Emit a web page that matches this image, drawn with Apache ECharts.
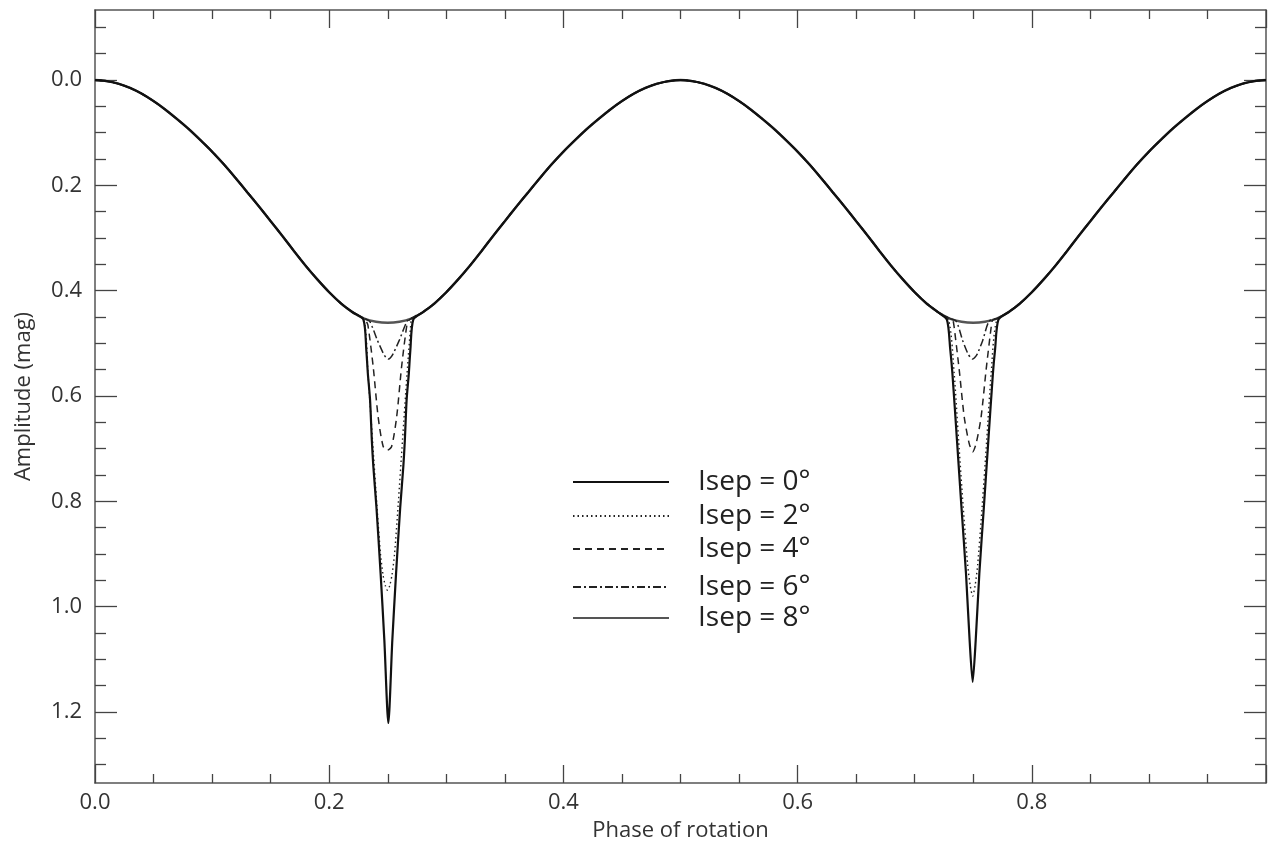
<!DOCTYPE html>
<html><head><meta charset="utf-8">
<script src="https://cdn.jsdelivr.net/npm/echarts@6/dist/echarts.min.js"></script>
<style>html,body{margin:0;padding:0;background:#fff}#c{width:1272px;height:852px}</style>
</head><body><div id="c"></div><script>
// ---------- data ----------
const seriesNames = ['Isep = 0°', 'Isep = 2°', 'Isep = 4°', 'Isep = 6°', 'Isep = 8°'];
const basePhaseStep = 0.01;
// smooth light curve (mag) at phase 0.00 .. 1.00, step 0.01
const baseMag = [
  0.000,0.002,0.007,0.015,0.026,0.040,0.056,0.074,0.093,0.114,
  0.136,0.160,0.186,0.213,0.240,0.268,0.296,0.325,0.353,0.379,
  0.403,0.424,0.441,0.453,0.459,0.461,0.459,0.453,0.441,0.424,
  0.403,0.379,0.353,0.325,0.296,0.268,0.240,0.213,0.186,0.160,
  0.136,0.114,0.093,0.074,0.056,0.040,0.026,0.015,0.007,0.002,
  0.000,0.002,0.007,0.015,0.026,0.040,0.056,0.074,0.093,0.114,
  0.136,0.160,0.186,0.213,0.240,0.268,0.296,0.325,0.353,0.379,
  0.403,0.424,0.441,0.453,0.459,0.461,0.459,0.453,0.441,0.424,
  0.403,0.379,0.353,0.325,0.296,0.268,0.240,0.213,0.186,0.160,
  0.136,0.114,0.093,0.074,0.056,0.040,0.026,0.015,0.007,0.002,
  0.000
];
// eclipse dips near phase 0.25 : [phase, mag]
const dip1Isep0 = [[0.2292,0.455],[0.2317,0.513],[0.2330,0.557],[0.2349,0.608],[0.2364,0.684],[0.2377,0.734],[0.2403,0.810],[0.2439,0.937],[0.2471,1.064],[0.2505,1.221],[0.2539,1.064],[0.2571,0.937],[0.2607,0.810],[0.2633,0.734],[0.2646,0.684],[0.2661,0.608],[0.2680,0.557],[0.2693,0.513],[0.2718,0.455]];
const dip1Isep2 = [[0.2297,0.456],[0.2331,0.557],[0.2370,0.684],[0.2408,0.810],[0.2438,0.900],[0.2460,0.940],[0.2479,0.960],[0.2498,0.969],[0.2517,0.960],[0.2536,0.940],[0.2558,0.900],[0.2588,0.810],[0.2626,0.684],[0.2665,0.557],[0.2699,0.456]];
const dip1Isep4 = [[0.2312,0.456],[0.2331,0.466],[0.2376,0.545],[0.2418,0.640],[0.2461,0.696],[0.2497,0.703],[0.2533,0.696],[0.2576,0.640],[0.2618,0.545],[0.2663,0.466],[0.2682,0.456]];
const dip1Isep6 = [[0.2345,0.458],[0.2411,0.494],[0.2462,0.519],[0.2485,0.527],[0.2505,0.530],[0.2525,0.527],[0.2548,0.519],[0.2599,0.494],[0.2665,0.458]];
// eclipse dips near phase 0.75 : [phase, mag]
const dip2Isep0 = [[0.7275,0.455],[0.7303,0.510],[0.7322,0.557],[0.7361,0.684],[0.7399,0.810],[0.7438,0.937],[0.7469,1.064],[0.7495,1.143],[0.7521,1.064],[0.7552,0.937],[0.7591,0.810],[0.7629,0.684],[0.7668,0.557],[0.7687,0.510],[0.7715,0.455]];
const dip2Isep2 = [[0.7290,0.456],[0.7337,0.557],[0.7375,0.684],[0.7414,0.810],[0.7452,0.920],[0.7474,0.960],[0.7495,0.980],[0.7516,0.960],[0.7538,0.920],[0.7576,0.810],[0.7615,0.684],[0.7653,0.557],[0.7700,0.456]];
const dip2Isep4 = [[0.7325,0.456],[0.7335,0.466],[0.7380,0.550],[0.7423,0.640],[0.7465,0.690],[0.7495,0.706],[0.7525,0.690],[0.7567,0.640],[0.7610,0.550],[0.7655,0.466],[0.7665,0.456]];
const dip2Isep6 = [[0.7355,0.458],[0.7410,0.495],[0.7455,0.520],[0.7477,0.527],[0.7495,0.530],[0.7513,0.527],[0.7535,0.520],[0.7580,0.495],[0.7635,0.458]];
// axis ticks
const xLabelTicks = [0, 0.2, 0.4, 0.6, 0.8];
const xMajorTicks = [0, 0.2, 0.4, 0.6, 0.8, 1.0];
const xMinorTicks = [0.05,0.1,0.15,0.25,0.3,0.35,0.45,0.5,0.55,0.65,0.7,0.75,0.85,0.9,0.95];
const yMajorTicks = [0, 0.2, 0.4, 0.6, 0.8, 1.0, 1.2];
const yMinorTicks = [-0.1,-0.05,0.05,0.1,0.15,0.25,0.3,0.35,0.45,0.5,0.55,0.65,0.7,0.75,0.85,0.9,0.95,1.05,1.1,1.15,1.25,1.3];
const yRange = [-0.133, 1.335];
const xRange = [0, 1];

// ---------- build ----------
function build(dips) {
  const pts = [];
  for (let i = 0; i < baseMag.length; i++) {
    const p = +(i * basePhaseStep).toFixed(4);
    if (dips.some(d => p >= d[0][0] && p <= d[d.length - 1][0])) continue;
    pts.push([p, baseMag[i]]);
  }
  dips.forEach(d => d.forEach(pt => pts.push(pt)));
  pts.sort((a, b) => a[0] - b[0]);
  return pts;
}
const seriesData = [
  build([dip1Isep0, dip2Isep0]),
  build([dip1Isep2, dip2Isep2]),
  build([dip1Isep4, dip2Isep4]),
  build([dip1Isep6, dip2Isep6]),
  build([])
];
const FONT = 'Open Sans';
const lineStyles = [
  {color:'#111', width:2.2, type:'solid'},
  {color:'#222', width:1.4, type:[1.5,3]},
  {color:'#222', width:1.5, type:[7,5]},
  {color:'#222', width:1.5, type:[8,3,2,3]},
  {color:'#555', width:2.4, type:'solid'}
];
const frameColor = '#555';
function xAx(pos, ticks, len, labels) {
  return {
    type:'value', min:xRange[0], max:xRange[1], position:pos,
    axisLine:{show:len>10, onZero:false, lineStyle:{color:frameColor, width:1.5}},
    axisTick:{show:true, inside:true, length:len, customValues:ticks, lineStyle:{color:'#444', width:1.3}},
    axisLabel:labels ? {show:true, customValues:labels, formatter:v=>v.toFixed(1), fontSize:22, color:'#333', fontFamily:FONT, margin:9} : {show:false},
    splitLine:{show:false}
  };
}
function yAx(pos, ticks, len, labels) {
  return {
    type:'value', min:yRange[0], max:yRange[1], inverse:true, position:pos,
    axisLine:{show:len>15, onZero:false, lineStyle:{color:frameColor, width:1.5}},
    axisTick:{show:true, inside:true, length:len, customValues:ticks, lineStyle:{color:'#444', width:1.3}},
    axisLabel:labels ? {show:true, customValues:labels, formatter:v=>v.toFixed(1), fontSize:22, color:'#333', fontFamily:FONT, margin:13} : {show:false},
    splitLine:{show:false}
  };
}
const xa0 = xAx('bottom', xMajorTicks, 18, xLabelTicks);
xa0.name = 'Phase of rotation'; xa0.nameLocation = 'middle'; xa0.nameGap = 37;
xa0.nameTextStyle = {fontSize:22, color:'#333', fontFamily:FONT};
const ya0 = yAx('left', yMajorTicks, 22, yMajorTicks);
ya0.name = 'Amplitude (mag)'; ya0.nameLocation = 'middle'; ya0.nameGap = 60;
ya0.nameTextStyle = {fontSize:22, color:'#333', fontFamily:FONT};

const legendCenters = [482, 516, 549, 587, 618];
const chart = echarts.init(document.getElementById('c'), null, {renderer:'canvas'});
chart.setOption({
  animation:false,
  backgroundColor:'#fff',
  grid:{left:95, right:6, top:10, bottom:69, containLabel:false},
  xAxis:[xa0, xAx('bottom', xMinorTicks, 9, null), xAx('top', xMajorTicks, 18, null), xAx('top', xMinorTicks, 9, null)],
  yAxis:[ya0, yAx('left', yMinorTicks, 11, null), yAx('right', yMajorTicks, 22, null), yAx('right', yMinorTicks, 11, null)],
  legend: seriesNames.map((n, i) => ({
    data:[n], left:572, top:legendCenters[i] - 15, orient:'horizontal', padding:0,
    itemWidth:96, itemHeight:14, selectedMode:false,
    itemStyle:{color:'rgba(0,0,0,0)', borderWidth:0, opacity:0},
    textStyle:{fontSize:28, color:'#222', fontFamily:FONT, padding:[0,0,0,24], lineHeight:30}
  })),
  series: seriesNames.map((n, i) => ({
    name:n, type:'line', xAxisIndex:0, yAxisIndex:0, data:seriesData[i],
    showSymbol:false, symbol:'none', smooth:0.25, lineStyle:lineStyles[i],
    itemStyle:{color:lineStyles[i].color},
    z: 5 - i
  }))
});
</script></body></html>
